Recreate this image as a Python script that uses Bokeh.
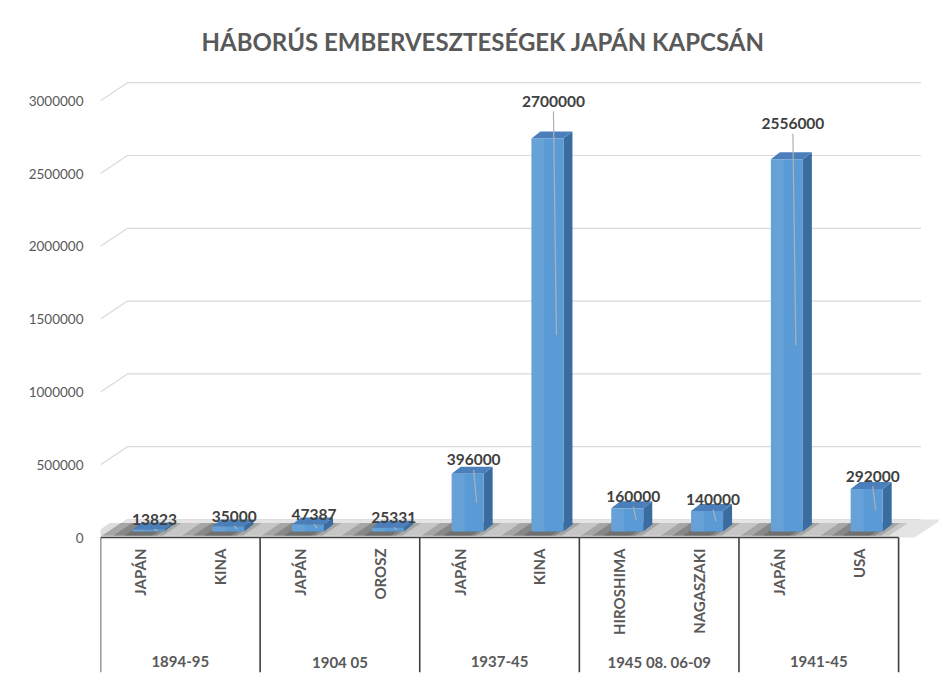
import numpy as np
from bokeh.plotting import figure
from bokeh.models import Range1d, FixedTicker, NumeralTickFormatter, ColumnDataSource
from bokeh.core.properties import value
from bokeh.embed import file_html
from bokeh.resources import INLINE

# ---------------- data ----------------
title_text = "HÁBORÚS EMBERVESZTESÉGEK JAPÁN KAPCSÁN"
groups = ["1894-95", "1904 05", "1937-45", "1945 08. 06-09", "1941-45"]
subcats = ["JAPÁN", "KINA", "JAPÁN", "OROSZ", "JAPÁN", "KINA",
           "HIROSHIMA", "NAGASZAKI", "JAPÁN", "USA"]
group_of = [0, 0, 1, 1, 2, 2, 3, 3, 4, 4]
losses = [13823, 35000, 47387, 25331, 396000, 2700000, 160000, 140000, 2556000, 292000]
y_ticks = [0, 500000, 1000000, 1500000, 2000000, 2500000, 3000000]

# ---------------- geometry (pixel based styling) ----------------
PX_X = 1 / 79.8          # data units per pixel (x)
PX_Y = 500000 / 72.8     # data units per pixel (y)
FRONT0 = 537             # page y of value 0 (front plane)
TOP, BOTTOM = 0, 672
X0, X1 = -0.5, 10.0
Y0 = -(BOTTOM - FRONT0) * PX_Y
Y1 = (FRONT0 - TOP) * PX_Y

DXW, DYW = 27 * PX_X, 18 * PX_Y      # wall depth
BAR_OFF, BAR_W = 8 * PX_X, 32 * PX_X
BASE = 6 * PX_Y
DX, DY = 9 * PX_X, 7 * PX_Y          # bar depth
GRID_R = 9.78
FLOOR_R = 9.7

FONT = "Lato"
GRAY = "#595959"

p = figure(width=951, height=680, output_backend="svg", toolbar_location=None,
           x_range=Range1d(X0, X1), y_range=Range1d(Y0, Y1),
           x_axis_location=None, y_axis_location="left",
           min_border_left=100, min_border_right=13, min_border_top=0, min_border_bottom=8)
p.outline_line_color = None
p.grid.visible = False
p.background_fill_color = "white"
p.border_fill_color = "white"

ax = p.yaxis[0]
ax.ticker = FixedTicker(ticks=y_ticks)
ax.formatter = NumeralTickFormatter(format="0")
ax.axis_line_color = None
ax.major_tick_line_color = None
ax.minor_tick_line_color = None
ax.major_label_standoff = 11
ax.major_label_text_font = FONT
ax.major_label_text_font_size = "13.5px"
ax.major_label_text_color = GRAY

# back wall gridlines (3D style)
gx = [[X0, X0 + DXW, GRID_R] for _ in y_ticks]
gy = [[t, t + DYW, t + DYW] for t in y_ticks]
p.multi_line(gx, gy, line_color="#d9d9d9", line_width=1.2)

# floor
p.patch([X0, FLOOR_R, FLOOR_R + DXW, X0 + DXW], [0, 0, DYW, DYW],
        fill_color="#e4e4e4", line_color=None)

xc = np.arange(len(losses), dtype=float)
v = np.array(losses, dtype=float)
xl = xc + BAR_OFF - BAR_W / 2
xr = xl + BAR_W
top = v + BASE

# shadows on the floor
for w_left, w_right, a in [(0.62, 0.38, 0.16), (0.48, 0.28, 0.2), (0.34, 0.2, 0.25), (0.2, 0.14, 0.25)]:
    sx = [[c - w_left, c + w_right, c + w_right + DXW * 0.7, c - w_left + DXW * 0.7] for c in xc]
    sy = [[DYW * 0.1, DYW * 0.1, DYW * 0.8, DYW * 0.8] for _ in xc]
    p.patches(sx, sy, fill_color="#2a2a2a", fill_alpha=a, line_color=None)

# bars: side, top, front
p.patches([[r, r + DX, r + DX, r] for r in xr],
          [[BASE, BASE + DY, t + DY, t] for t in top],
          fill_color="#3a6c9f", line_color=None)
p.patches([[l, l + DX, r + DX, r] for l, r in zip(xl, xr)],
          [[t, t + DY, t + DY, t] for t in top],
          fill_color="#4a7fbb", line_color=None)
p.vbar(x=xc + BAR_OFF, width=BAR_W, bottom=BASE, top=top,
       fill_color="#5b9bd5", line_color=None)
p.vbar(x=xc + BAR_OFF - BAR_W * 0.3, width=BAR_W * 0.4, bottom=BASE, top=top,
       fill_color="white", fill_alpha=0.07, line_color=None)

# data labels with leader lines
lab_y = v + BASE + (10 + 10 * v / 1e6) * PX_Y
lab_x = xc + 14 * PX_X
mid = BASE + v / 2
p.segment(x0=lab_x, y0=lab_y - 10 * PX_Y, x1=xc + 17 * PX_X, y1=mid,
          line_color="#b0b0b0", line_width=1.2)
src = ColumnDataSource(dict(x=lab_x, y=lab_y, t=[str(n) for n in losses]))
p.text(x="x", y="y", text="t", source=src, text_font=value(FONT),
       text_font_style="bold", text_font_size="15.5px", text_color="#404040",
       text_align="center", text_baseline="middle")

# category table
bounds = [X0] + [i + 0.5 for i in range(len(group_of) - 1) if group_of[i] != group_of[i + 1]] + [len(group_of) - 0.5]
p.segment(x0=X0, y0=0, x1=bounds[-1], y1=0, line_color="#404040", line_width=1.6)
p.segment(x0=bounds, y0=[0] * len(bounds), x1=bounds, y1=[Y0] * len(bounds),
          line_color="#404040", line_width=1.6)

p.text(x=xc, y=[-11 * PX_Y] * len(xc), text=subcats, angle=np.pi / 2,
       text_font=value(FONT), text_font_style="bold", text_font_size="15px",
       text_color=GRAY, text_align="right", text_baseline="middle")

gcx = [np.mean([x for x, g in zip(xc, group_of) if g == k]) for k in range(len(groups))]
p.text(x=gcx, y=[-124 * PX_Y] * len(groups), text=groups,
       text_font=value(FONT), text_font_style="bold", text_font_size="15px",
       text_color=GRAY, text_align="center", text_baseline="middle")

# title
p.text(x=[(482 - 139.4) * PX_X], y=[(FRONT0 - 41) * PX_Y], text=[title_text],
       text_font=value(FONT), text_font_style="bold", text_font_size="24px",
       text_color=GRAY, text_align="center", text_baseline="middle")

open("out.html", "w").write(file_html(p, INLINE))
